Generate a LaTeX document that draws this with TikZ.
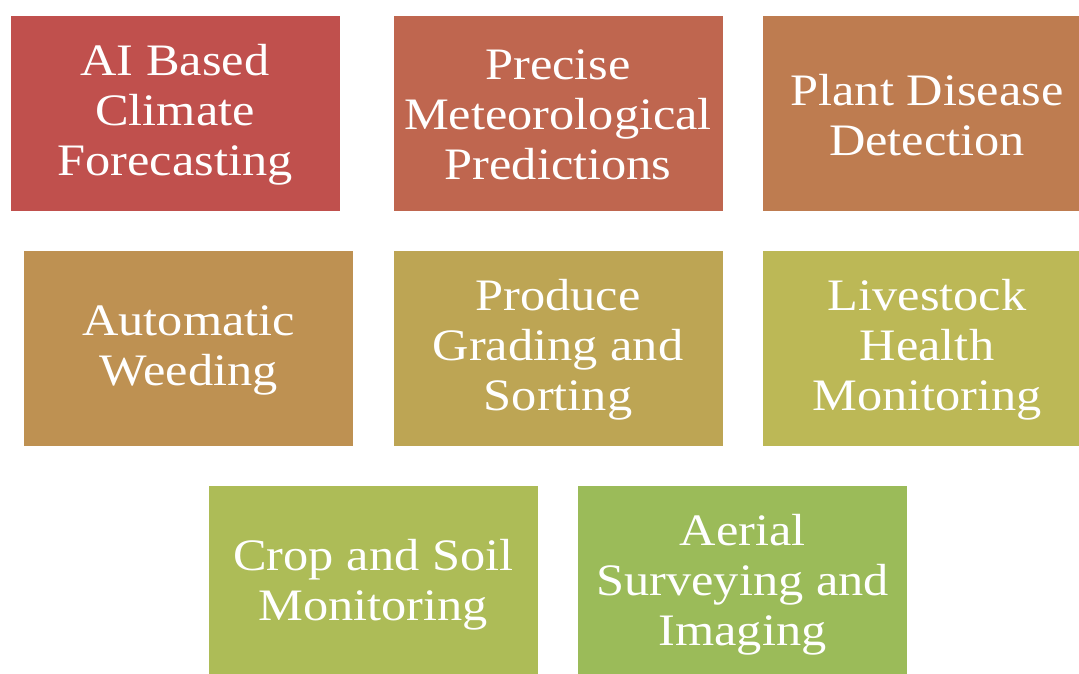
\documentclass[tikz,border=0pt]{standalone}
\usepackage{fontspec}
\setmainfont[FakeStretch=1.12]{Liberation Serif}
\definecolor{cA}{HTML}{C0504D}
\definecolor{cB}{HTML}{BF664F}
\definecolor{cC}{HTML}{BE7C50}
\definecolor{cD}{HTML}{BE9152}
\definecolor{cE}{HTML}{BDA554}
\definecolor{cF}{HTML}{BCB856}
\definecolor{cG}{HTML}{ADBC57}
\definecolor{cH}{HTML}{9BBB59}
\begin{document}
\begin{tikzpicture}[x=1pt,y=-1pt,
  tile/.style={fill=#1, draw=white, line width=0.6pt, minimum width=330pt, minimum height=196pt,
    inner sep=0pt},
  lbl/.style={inner sep=0pt, text=white, align=center, font=\fontsize{45}{50}\selectfont}]
\useasboundingbox (0,0) rectangle (1079,673);
\clip (0,0) rectangle (1079,673);
\node[tile=cA] (ai) at (175,113) {};
\node[tile=cB] (met) at (558,113) {};
\node[tile=cC] (pdd) at (927,113) {};
\node[tile=cD] (weed) at (188.7,348) {};
\node[tile=cE] (prod) at (558,348) {};
\node[tile=cF] (live) at (927,348) {};
\node[tile=cG] (crop) at (373.3,583) {};
\node[tile=cH] (aer) at (742.6,583) {};
\node[lbl] (ai-t) at ([yshift=-2pt]ai.center) {AI Based\\Climate\\Forecasting};
\node[lbl] (met-t) at ([yshift=-2pt]met.center) {Precise\\Meteorological\\Predictions};
\node[lbl] (pdd-t) at ([yshift=-2pt]pdd.center) {Plant Disease\\Detection};
\node[lbl] (weed-t) at ([yshift=-2pt]weed.center) {Automatic\\Weeding};
\node[lbl] (prod-t) at ([yshift=-2pt]prod.center) {Produce\\Grading and\\Sorting};
\node[lbl] (live-t) at ([yshift=-2pt]live.center) {Livestock\\Health\\Monitoring};
\node[lbl] (crop-t) at ([yshift=-2pt]crop.center) {Crop and Soil\\Monitoring};
\node[lbl] (aer-t) at ([yshift=-2pt]aer.center) {Aerial\\Surveying and\\Imaging};
\end{tikzpicture}
\end{document}
